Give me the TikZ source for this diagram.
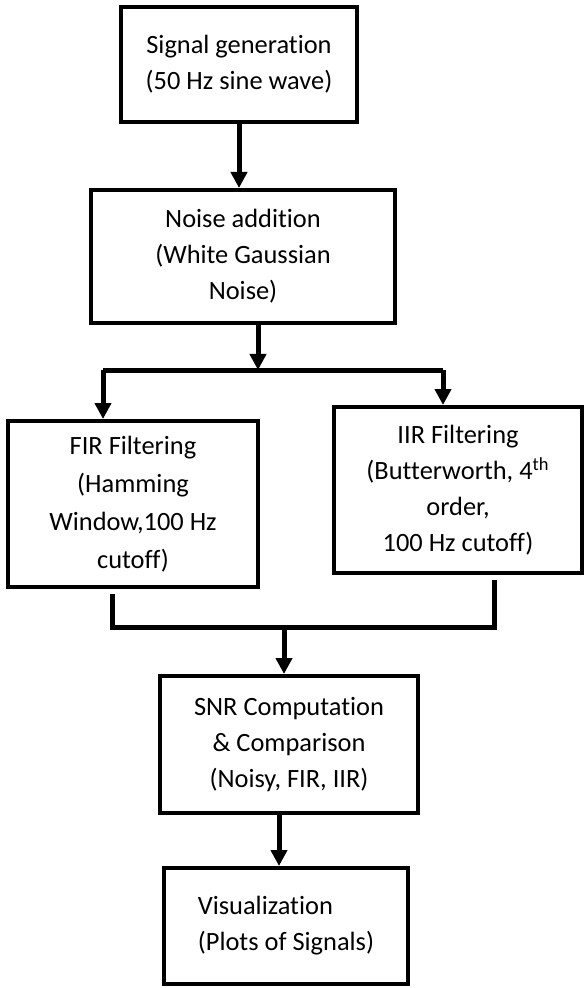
\documentclass[tikz,border=0pt]{standalone}
\usepackage{fontspec}
\setmainfont{Carlito}[RawFeature=-liga]
\usepackage{tikz}
\usetikzlibrary{arrows.meta, positioning}

\begin{document}
\begin{tikzpicture}[x=0.5pt, y=-0.5pt,
    stagebox/.style={draw, line width=2pt, align=center, inner sep=2pt,
      font={\fontsize{13.2pt}{18pt}\selectfont}},
    flow/.style={line width=2.5pt, -{Triangle[width=8pt,length=8pt]}},
    link/.style={line width=2.5pt}]
  \useasboundingbox (0,0) rectangle (587,988);
  % processing stages
  \node[stagebox, minimum width=118pt, minimum height=57.5pt] (sig) at (239,64.5)
    {Signal generation\\(50 Hz sine wave)};
  \node[stagebox, minimum width=152pt, minimum height=66.5pt] (noise) at (243,256.5)
    {Noise addition\\(White Gaussian\\Noise)};
  \node[stagebox, minimum width=125pt, minimum height=83pt,
    font={\fontsize{13.2pt}{19pt}\selectfont}] (fir) at (133,504)
    {FIR Filtering\\(Hamming\\Window,100 Hz\\cutoff)};
  \node[stagebox, minimum width=124pt, minimum height=83pt] (iir) at (458,490)
    {IIR Filtering\\(Butterworth, 4\textsuperscript{th}\\order,\\100 Hz cutoff)};
  \node[stagebox, minimum width=129pt, minimum height=68.5pt] (snr) at (289,744.5)
    {SNR Computation\\\& Comparison\\(Noisy, FIR, IIR)};
  \node[stagebox, minimum width=122pt, minimum height=58pt, align=left] (viz) at (286,926)
    {Visualization\\(Plots of Signals)};
  % branch and merge points
  \coordinate (split) at (258,370);
  \coordinate (splitL) at (103,370);
  \coordinate (splitR) at (443,370);
  \coordinate (joinL) at (112,627);
  \coordinate (joinR) at (494,627);
  \coordinate (merge) at (284,627);
  % connectors
  \draw[flow] (sig.south) -- (sig.south |- noise.north);
  \draw[flow] (split |- noise.south) -- (split);
  \draw[link] (splitL) -- (splitR);
  \draw[flow] (splitL) -- (splitL |- fir.north);
  \draw[flow] (splitR) -- (splitR |- iir.north);
  \draw[link, shorten <=2.5pt, shorten >=2.5pt]
    (joinL |- fir.south) -- (joinL) -- (joinR) -- (joinR |- iir.south);
  \draw[flow] (merge) -- (merge |- snr.north);
  \draw[flow] ([xshift=-5pt]snr.south) -- ([xshift=-5pt]snr.south |- viz.north);
\end{tikzpicture}
\end{document}
